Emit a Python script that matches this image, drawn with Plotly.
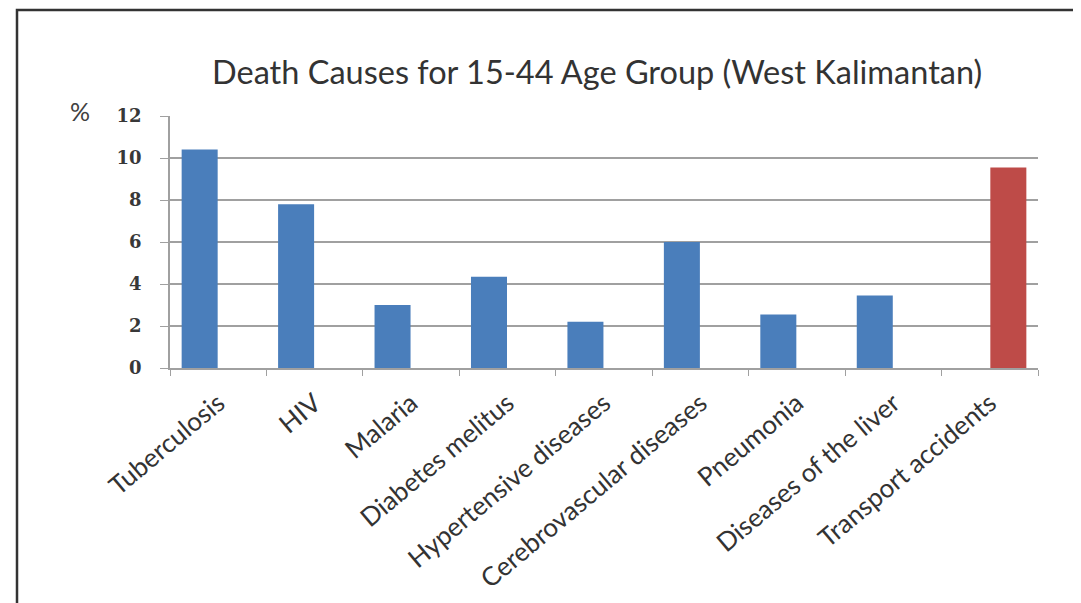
import plotly.graph_objects as go

categories = ["Tuberculosis", "HIV", "Malaria", "Diabetes melitus", "Hypertensive diseases",
              "Cerebrovascular diseases", "Pneumonia", "Diseases of the liver", "Transport accidents"]
disease_values = [10.4, 7.8, 3.0, 4.35, 2.2, 6.0, 2.55, 3.45, None]
accident_values = [None, None, None, None, None, None, None, None, 9.55]
y_ticks = [0, 2, 4, 6, 8, 10, 12]
title_text = "Death Causes for 15-44 Age Group (West Kalimantan)"

# page body has an 8px margin; work in reference-pixel coordinates and offset
OFF = 8
W, H = 1081 - OFF, 603 - OFF
plot_left, plot_right, plot_top, plot_bottom = 170, 1038, 116, 368
L = plot_left - OFF
R = W - (plot_right - OFF)
T = plot_top - OFF
B = H - (plot_bottom - OFF)
pw, ph = W - L - R, H - T - B

def px_x(x):
    return (x - plot_left) / pw

def px_y(y):
    return (plot_bottom - y) / ph

fig = go.Figure()
fig.add_trace(go.Bar(x=categories, y=disease_values, marker_color="#4A7EBB",
                     marker_line_width=0, name="Diseases"))
fig.add_trace(go.Bar(x=categories, y=accident_values, marker_color="#BE4B48",
                     marker_line_width=0, name="Accidents"))

fig.update_layout(
    width=W, height=H,
    margin=dict(l=L, r=R, t=T, b=B, autoexpand=False),
    paper_bgcolor="white", plot_bgcolor="white",
    barmode="group", bargap=0.23, bargroupgap=0.03,
    showlegend=False,
    font=dict(family="Lato", color="#404040"),
)
fig.update_xaxes(
    type="category", showgrid=False, showline=True, linecolor="#A0A0A0", linewidth=1.5,
    ticks="outside", tickson="boundaries", ticklen=6, tickcolor="#A0A0A0",
    ticklabelstandoff=8,
    tickangle=-40, tickfont=dict(family="Lato", size=26, color="#333333"),
)
fig.update_yaxes(
    range=[0, 12], tickvals=y_ticks, showgrid=True, gridcolor="#A0A0A0", gridwidth=1.5,
    showline=True, linecolor="#A0A0A0", linewidth=1.5, zeroline=False,
    ticks="outside", ticklen=8, tickcolor="#A0A0A0", ticklabelstandoff=15,
    tickfont=dict(family="DejaVu Serif", size=18, color="#383838", weight="bold"),
)

fig.add_annotation(text=title_text, xref="paper", yref="paper", x=px_x(597), y=px_y(72),
                   showarrow=False, xanchor="center", yanchor="middle",
                   font=dict(family="Lato", size=32.5, color="#333333"))
fig.add_annotation(text="%", xref="paper", yref="paper", x=px_x(80), y=px_y(111),
                   showarrow=False, xanchor="center", yanchor="middle",
                   font=dict(family="Lato", size=25, color="#404040"))

fig.add_shape(type="rect", xref="paper", yref="paper",
              x0=px_x(17), x1=px_x(1077), y0=px_y(10), y1=px_y(640),
              line=dict(color="#333333", width=2.5), fillcolor="rgba(0,0,0,0)", layer="below")

fig.write_html("out.html")
